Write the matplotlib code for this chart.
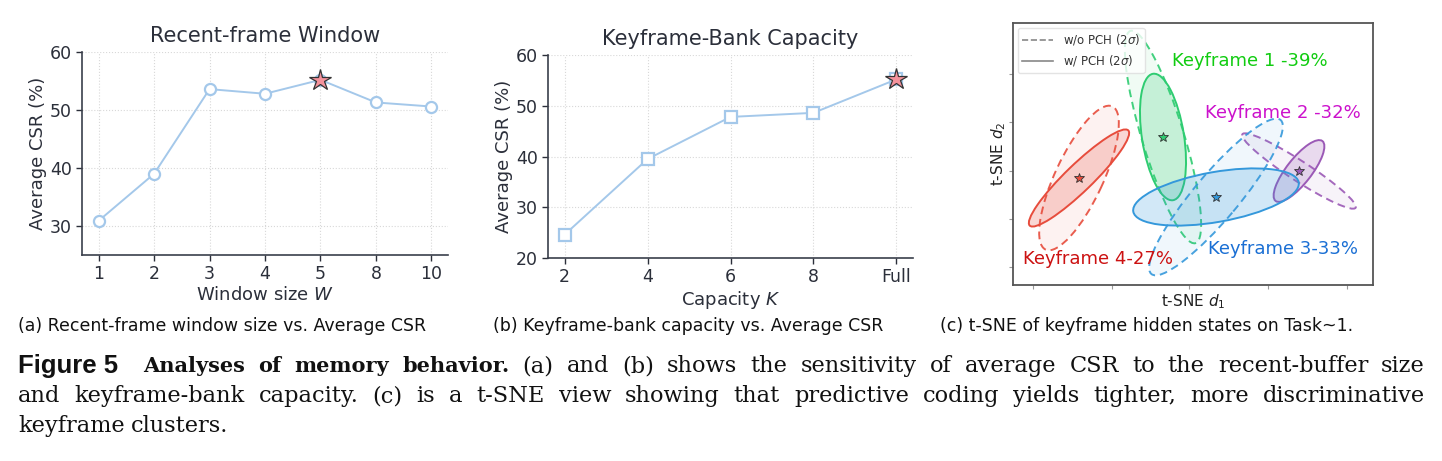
import matplotlib
matplotlib.use("Agg")
import matplotlib.pyplot as plt
from matplotlib.patches import Ellipse
from matplotlib.lines import Line2D
from matplotlib.transforms import IdentityTransform

# ---- data -------------------------------------------------------------
window_labels = ["1", "2", "3", "4", "5", "8", "10"]
window_csr = [30.9, 39.0, 53.6, 52.8, 55.2, 51.3, 50.6]
window_best = 4

capacity_labels = ["2", "4", "6", "8", "Full"]
capacity_csr = [24.6, 39.5, 47.8, 48.6, 55.2]
capacity_best = 4

# t-SNE clusters (axes units), 2-sigma ellipses with / without PCH
kf_names = ["Keyframe 1 -39%", "Keyframe 2 -32%", "Keyframe 3-33%", "Keyframe 4-27%"]
kf_colors = ["#2ecc71", "#9b59b6", "#3498db", "#e74c3c"]
kf_text_colors = ["#11cc11", "#cc11cc", "#1a6fd4", "#cc1111"]
kf_center = [(150, 148), (286, 114), (203, 88), (66, 107)]
kf_pch = [(128, 42, 99), (76, 25, 52), (168, 50, 10), (137, 27, 44)]       # (length, width, angle)
kf_nopch = [(222, 42, 107), (135, 20, -33), (201, 45, 50), (158, 48, 65)]
kf_label_pos = [(159, 224), (192, 172), (195, 36), (10, 26)]

W, H = 1442, 461
fig = plt.figure(figsize=(W / 100, H / 100), dpi=100)

SANS = ["DejaVu Sans"]
DARK = "#2b2f3a"
LINE = "#a4c8ea"


def px_axes(l, t, r, b):
    return fig.add_axes([l / W, 1 - b / H, (r - l) / W, (b - t) / H])


def style_line_axes(ax):
    for s in ["top", "right"]:
        ax.spines[s].set_visible(False)
    for s in ["left", "bottom"]:
        ax.spines[s].set_color("#3a3f4b")
        ax.spines[s].set_linewidth(1.2)
    ax.grid(True, linestyle=":", color="#d8d8d8", linewidth=0.8)
    ax.set_axisbelow(True)
    ax.tick_params(colors=DARK, labelsize=12.5, length=4, width=1)


def line_panel(ax, labels, vals, best, marker, title, xlabel, ylim, yticks):
    x = list(range(len(vals)))
    pad = 0.3 if len(x) > 5 else 0.2
    ax.plot(x, vals, color=LINE, lw=1.4, marker=marker, ms=8, mfc="white",
            mec=LINE, mew=1.6, zorder=3)
    ax.plot([x[best]], [vals[best]], marker="*", ms=16, mfc="#f4929c",
            mec="#333333", mew=0.9, ls="none", zorder=4)
    ax.set_xticks(x)
    ax.set_xticklabels(labels)
    ax.set_yticks(yticks)
    ax.set_xlim(-pad, x[-1] + pad)
    ax.set_ylim(*ylim)
    ax.set_title(title, fontsize=15, color=DARK, pad=7)
    ax.set_xlabel(xlabel, fontsize=13, color=DARK, labelpad=2)
    ax.set_ylabel("Average CSR (%)", fontsize=13, color=DARK, labelpad=2)
    style_line_axes(ax)


plt.rcParams["font.family"] = SANS
plt.rcParams["mathtext.fontset"] = "dejavusans"

ax1 = px_axes(82, 52, 448, 255)
line_panel(ax1, window_labels, window_csr, window_best, "o",
           "Recent-frame Window", "Window size $W$", (25, 60), [30, 40, 50, 60])

ax2 = px_axes(548, 55, 913, 258)
line_panel(ax2, capacity_labels, capacity_csr, capacity_best, "s",
           "Keyframe-Bank Capacity", "Capacity $K$", (20, 60), [20, 30, 40, 50, 60])

# ---- t-SNE panel ------------------------------------------------------
ax3 = px_axes(1013, 23, 1373, 285)
ax3.set_xlim(0, 360)
ax3.set_ylim(0, 262)
for c, cen, a, b in zip(kf_colors, kf_center, kf_nopch, kf_pch):
    ax3.add_patch(Ellipse(cen, a[0], a[1], angle=a[2], facecolor=c, alpha=0.07, lw=0))
    ax3.add_patch(Ellipse(cen, a[0], a[1], angle=a[2], fill=False, edgecolor=c,
                          ls=(0, (4, 2.5)), lw=1.4, alpha=0.9))
    ax3.add_patch(Ellipse(cen, b[0], b[1], angle=b[2], facecolor=c, alpha=0.22, lw=0))
    ax3.add_patch(Ellipse(cen, b[0], b[1], angle=b[2], fill=False, edgecolor=c, lw=1.4))
    ax3.plot([cen[0]], [cen[1]], marker="*", ms=7, mfc=c, mec="#333333", mew=0.6)
for name, tc, pos in zip(kf_names, kf_text_colors, kf_label_pos):
    ax3.text(pos[0], pos[1], name, color=tc, fontsize=13, va="center", ha="left")
ax3.set_xticks([20, 99, 176, 255, 334])
ax3.set_yticks([18, 66, 114, 163, 211])
ax3.set_xticklabels([])
ax3.set_yticklabels([])
ax3.tick_params(length=3, color="#999999")
for s in ax3.spines.values():
    s.set_color("#555555")
    s.set_linewidth(1.3)
ax3.set_xlabel("t-SNE $d_1$", fontsize=11, color="#222222", labelpad=-1)
ax3.set_ylabel("t-SNE $d_2$", fontsize=11, color="#222222", labelpad=-3)
handles = [Line2D([], [], color="#888888", ls="--", lw=1.2),
           Line2D([], [], color="#888888", ls="-", lw=1.2)]
ax3.legend(handles, ["w/o PCH (2$\\sigma$)", "w/ PCH (2$\\sigma$)"], loc="upper left",
           fontsize=8.5, frameon=True, edgecolor="#dddddd", handlelength=2.6,
           borderaxespad=0.4, labelcolor="#333333")

# ---- sub captions -----------------------------------------------------
sub = [("(a) Recent-frame window size vs. Average CSR", 18),
       ("(b) Keyframe-bank capacity vs. Average CSR", 493),
       ("(c) t-SNE of keyframe hidden states on Task~1.", 940)]
for txt, x0 in sub:
    fig.text(x0 / W, 1 - 326 / H, txt, fontsize=12.5, va="center", ha="left", color="#111111")

# ---- figure caption, justified ---------------------------------------
SERIF = ["DejaVu Serif"]
renderer = fig.canvas.get_renderer()
reg = dict(family=SERIF, fontsize=16.2)
bold = dict(family=SERIF, fontsize=15, weight="bold")


def toks(s, kw):
    return [(w, kw, 0) for w in s.split()]


def caption(tokens, y, justify, x0=18, x1=1425):
    objs = [fig.text(0, H - y, w, transform=IdentityTransform(), va="center",
                     ha="left", color="#111111", **kw) for w, kw, _ in tokens]
    widths = [o.get_window_extent(renderer).width for o in objs]
    extra = [e for _, _, e in tokens]
    gap = (x1 - x0 - sum(widths) - sum(extra)) / (len(objs) - 1) if justify else 6
    x = x0
    for o, w, e in zip(objs, widths, extra):
        o.set_x(x)
        x += w + gap + e


line1 = [("Figure 5", dict(family=["Liberation Sans"], fontsize=18.5, weight="bold"), 12)] + \
    toks("Analyses of memory behavior.", bold) + \
    toks("(a) and (b) shows the sensitivity of average CSR to the recent-buffer size", reg)
line2 = toks("and keyframe-bank capacity. (c) is a t-SNE view showing that predictive "
             "coding yields tighter, more discriminative", reg)
line3 = toks("keyframe clusters.", reg)

caption(line1, 366, True)
caption(line2, 396, True)
caption(line3, 426, False)

fig.savefig("out.png", dpi=100)
